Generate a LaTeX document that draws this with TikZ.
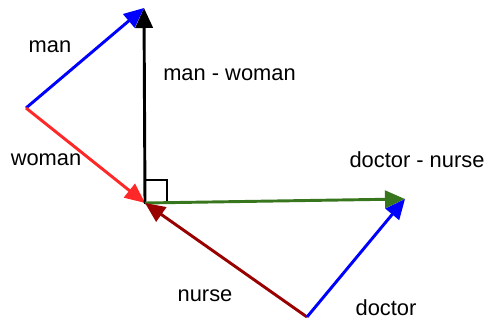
\documentclass[tikz,border=0pt]{standalone}
\usepackage{fontspec}
\setmainfont{Liberation Sans}
\usepackage{xcolor}
\usetikzlibrary{arrows.meta}
\definecolor{vecblue}{RGB}{0,0,255}
\definecolor{vecred}{RGB}{255,40,40}
\definecolor{vecgreen}{RGB}{56,118,29}
\definecolor{vecdarkred}{RGB}{153,0,0}

\begin{document}
\begin{tikzpicture}[
    x=0.75pt, y=-0.75pt,
    vec/.style={-{Triangle[length=15pt, width=13pt]}, line width=2.2pt},
    lbl/.style={font=\fontsize{16.4}{19}\selectfont, inner sep=0pt},
    rightangle/.style={draw=black, line width=1.1pt}
]
\useasboundingbox (0,0) rectangle (485,321);

% Points
\coordinate (origin) at (145,203);
\coordinate (manstart) at (26,108);
\coordinate (mantip) at (144,8);
\coordinate (doctortip) at (405,199);
\coordinate (nursestart) at (307,317);

% Right angle
\draw[rightangle] (origin) rectangle ++(22,-23);

% Vectors
\draw[vec, vecblue] (manstart) -- (mantip);
\draw[vec, vecred] (manstart) -- (origin);
\draw[vec, black] (origin) -- (mantip);
\draw[vec, vecgreen] (origin) -- (doctortip);
\draw[vec, vecdarkred] (nursestart) -- (origin);
\draw[vec, vecblue] (nursestart) -- (doctortip);

% Labels
\node[lbl] (manlbl) at (50,47) {man};
\node[lbl] (womanlbl) at (46,160) {woman};
\node[lbl, anchor=west] (difflbl) at (163,75) {man - woman};
\node[lbl] (dnlbl) at (417,160) {doctor - nurse};
\node[lbl] (nurselbl) at (205,296) {nurse};
\node[lbl] (doctorlbl) at (386,308) {doctor};

\end{tikzpicture}
\end{document}
